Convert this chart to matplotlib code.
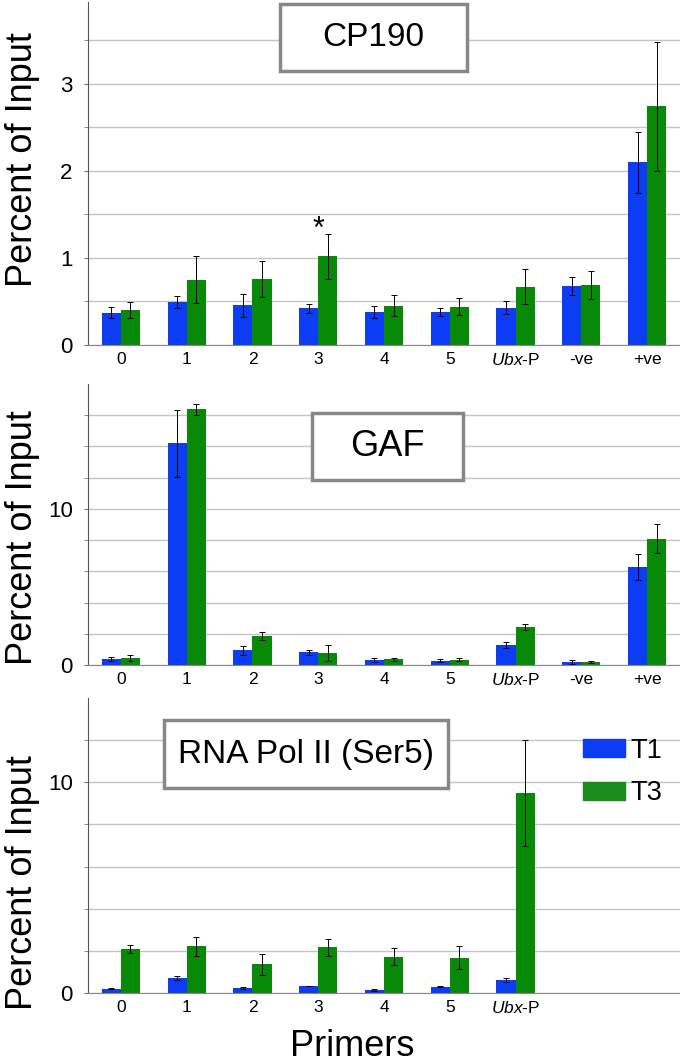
import numpy as np
import matplotlib
matplotlib.use("Agg")
import matplotlib.pyplot as plt
from matplotlib.patches import Rectangle, Patch

plt.rcParams['font.family'] = ['Liberation Sans', 'DejaVu Sans']
plt.rcParams['mathtext.fontset'] = 'custom'
plt.rcParams['mathtext.rm'] = 'Liberation Sans'
plt.rcParams['mathtext.it'] = 'Liberation Sans:italic'

primers = ["0", "1", "2", "3", "4", "5", r"$\it{Ubx}$-P", "-ve", "+ve"]

# CP190
cp_t1 = [0.37, 0.49, 0.455, 0.42, 0.38, 0.38, 0.43, 0.68, 2.10]
cp_t1_err = [0.065, 0.07, 0.13, 0.05, 0.07, 0.045, 0.075, 0.10, 0.35]
cp_t3 = [0.40, 0.75, 0.76, 1.02, 0.45, 0.44, 0.67, 0.69, 2.74]
cp_t3_err = [0.09, 0.27, 0.21, 0.26, 0.12, 0.10, 0.20, 0.16, 0.745]

# GAF
gaf_t1 = [0.41, 14.2, 0.94, 0.81, 0.32, 0.28, 1.30, 0.19, 6.30]
gaf_t1_err = [0.13, 2.15, 0.30, 0.17, 0.10, 0.08, 0.20, 0.10, 0.83]
gaf_t3 = [0.47, 16.37, 1.86, 0.77, 0.36, 0.34, 2.46, 0.19, 8.08]
gaf_t3_err = [0.20, 0.33, 0.28, 0.50, 0.12, 0.08, 0.19, 0.05, 0.93]

# RNA Pol II (Ser5) - no -ve / +ve
pol_t1 = [0.21, 0.73, 0.24, 0.33, 0.14, 0.30, 0.60]
pol_t1_err = [0.03, 0.10, 0.04, 0.02, 0.03, 0.02, 0.09]
pol_t3 = [2.09, 2.22, 1.36, 2.17, 1.72, 1.68, 9.51]
pol_t3_err = [0.19, 0.45, 0.50, 0.40, 0.40, 0.54, 2.52]

blue = '#0d3cf5'
green = '#088a08'
w = 0.29

fig = plt.figure(figsize=(6.8, 10.63), dpi=100)
W, H = 680, 1063


def make_axes(top_px, bottom_px):
    left, right = 88, 680
    return fig.add_axes([left / W, 1 - bottom_px / H, (right - left) / W, (bottom_px - top_px) / H])


def draw_panel(ax, t1, t1e, t3, t3e, ymax, major, minor, nlabels):
    x = np.arange(len(t1))
    ax.set_axisbelow(True)
    ax.bar(x - w / 2, t1, w, color=blue, yerr=t1e, error_kw=dict(ecolor='black', elinewidth=0.7, capsize=2, capthick=0.7))
    ax.bar(x + w / 2, t3, w, color=green, yerr=t3e, error_kw=dict(ecolor='black', elinewidth=0.7, capsize=2, capthick=0.7))
    ax.set_xlim(-0.5, 8.5)
    ax.set_ylim(0, ymax)
    ax.set_xticks(np.arange(nlabels))
    ax.set_xticklabels(primers[:nlabels], fontsize=12.5)
    ax.set_yticks(major)
    ax.set_yticklabels([str(v) for v in major], fontsize=16)
    ax.set_yticks(minor, minor=True)
    ax.yaxis.grid(True, which='both', color='#c4c4c4', lw=1)
    ax.tick_params(axis='x', length=0, pad=5)
    ax.tick_params(axis='y', which='both', length=3, color='#777', pad=8, direction='out')
    for s in ['top', 'right']:
        ax.spines[s].set_visible(False)
    ax.spines['left'].set_color('#555')
    ax.spines['bottom'].set_color('#888')


def title_box(ax, text, x0, y0, bw, bh, fs):
    ax.add_patch(Rectangle((x0, y0), bw, bh, transform=ax.transAxes, facecolor='white',
                           edgecolor='#888888', lw=2.5, zorder=5, clip_on=False))
    ax.text(x0 + bw / 2, y0 + bh / 2, text, transform=ax.transAxes, ha='center', va='center',
            fontsize=fs, zorder=6)


ax1 = make_axes(2, 345)
draw_panel(ax1, cp_t1, cp_t1_err, cp_t3, cp_t3_err, 3.94, [0, 1, 2, 3],
           [0.5, 1.5, 2.5, 3.5], 9)
title_box(ax1, "CP190", 0.324, 0.799, 0.316, 0.195, 24)
ax1.text(3, 1.15, "*", ha='center', va='bottom', fontsize=22)

ax2 = make_axes(384, 665)
draw_panel(ax2, gaf_t1, gaf_t1_err, gaf_t3, gaf_t3_err, 18, [0, 10],
           [2, 4, 6, 8, 12, 14, 16], 9)
title_box(ax2, "GAF", 0.378, 0.658, 0.255, 0.239, 26)

ax3 = make_axes(698, 993)
draw_panel(ax3, pol_t1, pol_t1_err, pol_t3, pol_t3_err, 14, [0, 10],
           [2, 4, 6, 8, 12], 7)
title_box(ax3, "RNA Pol II (Ser5)", 0.128, 0.695, 0.48, 0.23, 24)

handles = [Patch(color=blue, label='T1'), Patch(color='#1a8c1a', label='T3')]
ax3.legend(handles=handles, loc='upper left', bbox_to_anchor=(0.836, 0.865), frameon=False,
           fontsize=19.5, handlelength=1.55, handleheight=0.65, handletextpad=0.2,
           labelspacing=0.6, borderpad=0, borderaxespad=0)

for ax, yc in [(ax1, 0.542), (ax2, 0.452), (ax3, 0.376)]:
    ax.set_ylabel("Percent of Input", fontsize=26)
    ax.yaxis.label.set_va('center')
    ax.yaxis.set_label_coords(-0.11, yc)

fig.text(352 / W, 1 - 1047 / H, "Primers", ha='center', va='center', fontsize=26)

fig.savefig("out.png", dpi=100)
